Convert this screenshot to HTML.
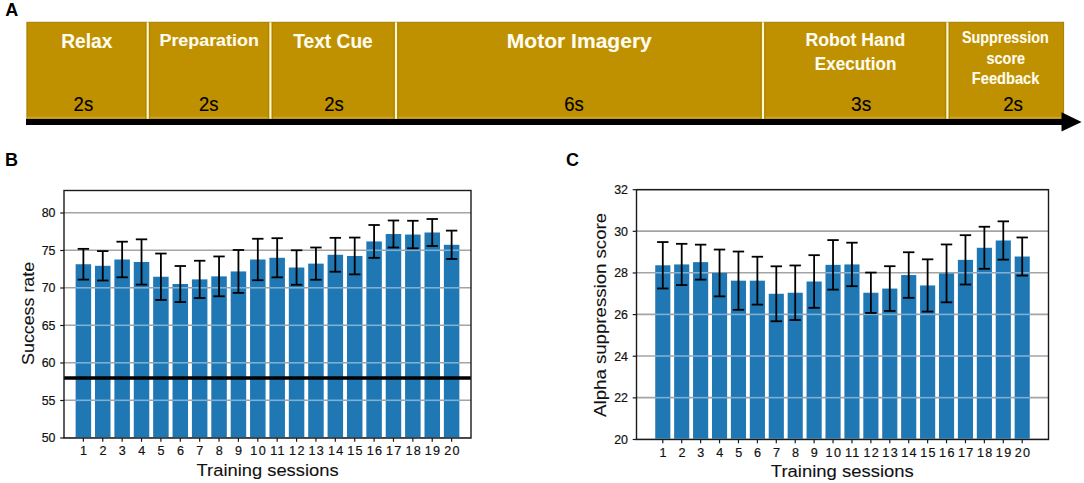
<!DOCTYPE html>
<html><head><meta charset="utf-8"><title>Figure</title>
<style>
html,body{margin:0;padding:0;background:#fff;width:1084px;height:483px;overflow:hidden;}
svg{display:block;font-family:"Liberation Sans", sans-serif;}
</style></head>
<body>
<svg width="1084" height="483" viewBox="0 0 1084 483">
<rect x="26.9" y="22.3" width="1036.6999999999998" height="96.5" fill="#BF9000" stroke="#A47C00" stroke-width="1"/>
<rect x="27.4" y="116.8" width="1035.6999999999998" height="1.6" fill="#D2A628"/>
<rect x="145.2" y="22.3" width="5" height="96.5" fill="#AE8400"/>
<rect x="146.6" y="22.3" width="2.2" height="96.5" fill="#FFF8C8"/>
<rect x="267.9" y="22.3" width="5" height="96.5" fill="#AE8400"/>
<rect x="269.29999999999995" y="22.3" width="2.2" height="96.5" fill="#FFF8C8"/>
<rect x="393.5" y="22.3" width="5" height="96.5" fill="#AE8400"/>
<rect x="394.9" y="22.3" width="2.2" height="96.5" fill="#FFF8C8"/>
<rect x="760.5" y="22.3" width="5" height="96.5" fill="#AE8400"/>
<rect x="761.9" y="22.3" width="2.2" height="96.5" fill="#FFF8C8"/>
<rect x="944.9" y="22.3" width="5" height="96.5" fill="#AE8400"/>
<rect x="946.3" y="22.3" width="2.2" height="96.5" fill="#FFF8C8"/>
<rect x="26" y="119" width="1040" height="6" fill="#000"/>
<polygon points="1061.5,112.2 1081.6,122 1061.5,131.6" fill="#000"/>
<text x="61.20" y="47.60" font-size="19.5" font-weight="bold" fill="#FFFDF0" stroke="#FFFDF0" stroke-width="0.1" textLength="51.10" lengthAdjust="spacingAndGlyphs">Relax</text>
<text x="159.50" y="45.50" font-size="16.8" font-weight="bold" fill="#FFFDF0" stroke="#FFFDF0" stroke-width="0.1" textLength="99.30" lengthAdjust="spacingAndGlyphs">Preparation</text>
<text x="293.20" y="47.60" font-size="19.5" font-weight="bold" fill="#FFFDF0" stroke="#FFFDF0" stroke-width="0.1" textLength="79.60" lengthAdjust="spacingAndGlyphs">Text Cue</text>
<text x="506.80" y="47.70" font-size="19.5" font-weight="bold" fill="#FFFDF0" stroke="#FFFDF0" stroke-width="0.1" textLength="145.00" lengthAdjust="spacingAndGlyphs">Motor Imagery</text>
<text x="805.60" y="46.20" font-size="18.3" font-weight="bold" fill="#FFFDF0" stroke="#FFFDF0" stroke-width="0.1" textLength="99.70" lengthAdjust="spacingAndGlyphs">Robot Hand</text>
<text x="814.80" y="70.20" font-size="18.3" font-weight="bold" fill="#FFFDF0" stroke="#FFFDF0" stroke-width="0.1" textLength="81.60" lengthAdjust="spacingAndGlyphs">Execution</text>
<text x="962.00" y="43.30" font-size="15.6" font-weight="bold" fill="#FFFDF0" stroke="#FFFDF0" stroke-width="0.1" textLength="86.80" lengthAdjust="spacingAndGlyphs">Suppression</text>
<text x="986.60" y="63.90" font-size="15.6" font-weight="bold" fill="#FFFDF0" stroke="#FFFDF0" stroke-width="0.1" textLength="38.40" lengthAdjust="spacingAndGlyphs">score</text>
<text x="971.80" y="84.00" font-size="15.6" font-weight="bold" fill="#FFFDF0" stroke="#FFFDF0" stroke-width="0.1" textLength="67.60" lengthAdjust="spacingAndGlyphs">Feedback</text>
<text x="73.60" y="111.3" font-size="20.8" fill="#000" stroke="#000" stroke-width="0.15" textLength="19.60" lengthAdjust="spacingAndGlyphs">2s</text>
<text x="198.90" y="111.3" font-size="20.8" fill="#000" stroke="#000" stroke-width="0.15" textLength="19.50" lengthAdjust="spacingAndGlyphs">2s</text>
<text x="324.30" y="111.3" font-size="20.8" fill="#000" stroke="#000" stroke-width="0.15" textLength="19.50" lengthAdjust="spacingAndGlyphs">2s</text>
<text x="564.20" y="111.3" font-size="20.8" fill="#000" stroke="#000" stroke-width="0.15" textLength="19.50" lengthAdjust="spacingAndGlyphs">6s</text>
<text x="851.10" y="111.3" font-size="20.8" fill="#000" stroke="#000" stroke-width="0.15" textLength="20.20" lengthAdjust="spacingAndGlyphs">3s</text>
<text x="1003.20" y="111.3" font-size="20.8" fill="#000" stroke="#000" stroke-width="0.15" textLength="19.80" lengthAdjust="spacingAndGlyphs">2s</text>
<text x="5.20" y="16.20" font-size="18" text-anchor="start" font-weight="bold" fill="#000" >A</text>
<text x="5.10" y="165.80" font-size="18" text-anchor="start" font-weight="bold" fill="#000" >B</text>
<text x="566.00" y="166.10" font-size="18" text-anchor="start" font-weight="bold" fill="#000" >C</text>
<line x1="64" y1="437.80" x2="471" y2="437.80" stroke="#A4A4A4" stroke-width="1.6"/>
<line x1="64" y1="400.30" x2="471" y2="400.30" stroke="#A4A4A4" stroke-width="1.6"/>
<line x1="64" y1="362.80" x2="471" y2="362.80" stroke="#A4A4A4" stroke-width="1.6"/>
<line x1="64" y1="325.30" x2="471" y2="325.30" stroke="#A4A4A4" stroke-width="1.6"/>
<line x1="64" y1="287.80" x2="471" y2="287.80" stroke="#A4A4A4" stroke-width="1.6"/>
<line x1="64" y1="250.30" x2="471" y2="250.30" stroke="#A4A4A4" stroke-width="1.6"/>
<line x1="64" y1="212.80" x2="471" y2="212.80" stroke="#A4A4A4" stroke-width="1.6"/>
<rect x="75.63" y="264.23" width="15.50" height="173.77" fill="#1F77B4"/>
<rect x="95.01" y="265.80" width="15.50" height="172.20" fill="#1F77B4"/>
<rect x="114.39" y="259.50" width="15.50" height="178.50" fill="#1F77B4"/>
<rect x="133.77" y="261.98" width="15.50" height="176.02" fill="#1F77B4"/>
<rect x="153.15" y="276.75" width="15.50" height="161.25" fill="#1F77B4"/>
<rect x="172.53" y="284.02" width="15.50" height="153.98" fill="#1F77B4"/>
<rect x="191.91" y="279.37" width="15.50" height="158.63" fill="#1F77B4"/>
<rect x="211.30" y="276.38" width="15.50" height="161.62" fill="#1F77B4"/>
<rect x="230.68" y="271.43" width="15.50" height="166.57" fill="#1F77B4"/>
<rect x="250.06" y="259.50" width="15.50" height="178.50" fill="#1F77B4"/>
<rect x="269.44" y="257.77" width="15.50" height="180.23" fill="#1F77B4"/>
<rect x="288.82" y="267.52" width="15.50" height="170.48" fill="#1F77B4"/>
<rect x="308.20" y="263.62" width="15.50" height="174.38" fill="#1F77B4"/>
<rect x="327.58" y="254.77" width="15.50" height="183.23" fill="#1F77B4"/>
<rect x="346.96" y="255.98" width="15.50" height="182.02" fill="#1F77B4"/>
<rect x="366.34" y="241.43" width="15.50" height="196.57" fill="#1F77B4"/>
<rect x="385.72" y="234.00" width="15.50" height="204.00" fill="#1F77B4"/>
<rect x="405.10" y="234.53" width="15.50" height="203.47" fill="#1F77B4"/>
<rect x="424.49" y="232.50" width="15.50" height="205.50" fill="#1F77B4"/>
<rect x="443.87" y="244.80" width="15.50" height="193.20" fill="#1F77B4"/>
<line x1="75.63" y1="437.80" x2="91.13" y2="437.80" stroke="#FFFFFF" stroke-opacity="0.42" stroke-width="1.6"/>
<line x1="95.01" y1="437.80" x2="110.51" y2="437.80" stroke="#FFFFFF" stroke-opacity="0.42" stroke-width="1.6"/>
<line x1="114.39" y1="437.80" x2="129.90" y2="437.80" stroke="#FFFFFF" stroke-opacity="0.42" stroke-width="1.6"/>
<line x1="133.77" y1="437.80" x2="149.28" y2="437.80" stroke="#FFFFFF" stroke-opacity="0.42" stroke-width="1.6"/>
<line x1="153.15" y1="437.80" x2="168.66" y2="437.80" stroke="#FFFFFF" stroke-opacity="0.42" stroke-width="1.6"/>
<line x1="172.53" y1="437.80" x2="188.04" y2="437.80" stroke="#FFFFFF" stroke-opacity="0.42" stroke-width="1.6"/>
<line x1="191.91" y1="437.80" x2="207.42" y2="437.80" stroke="#FFFFFF" stroke-opacity="0.42" stroke-width="1.6"/>
<line x1="211.30" y1="437.80" x2="226.80" y2="437.80" stroke="#FFFFFF" stroke-opacity="0.42" stroke-width="1.6"/>
<line x1="230.68" y1="437.80" x2="246.18" y2="437.80" stroke="#FFFFFF" stroke-opacity="0.42" stroke-width="1.6"/>
<line x1="250.06" y1="437.80" x2="265.56" y2="437.80" stroke="#FFFFFF" stroke-opacity="0.42" stroke-width="1.6"/>
<line x1="269.44" y1="437.80" x2="284.94" y2="437.80" stroke="#FFFFFF" stroke-opacity="0.42" stroke-width="1.6"/>
<line x1="288.82" y1="437.80" x2="304.32" y2="437.80" stroke="#FFFFFF" stroke-opacity="0.42" stroke-width="1.6"/>
<line x1="308.20" y1="437.80" x2="323.70" y2="437.80" stroke="#FFFFFF" stroke-opacity="0.42" stroke-width="1.6"/>
<line x1="327.58" y1="437.80" x2="343.09" y2="437.80" stroke="#FFFFFF" stroke-opacity="0.42" stroke-width="1.6"/>
<line x1="346.96" y1="437.80" x2="362.47" y2="437.80" stroke="#FFFFFF" stroke-opacity="0.42" stroke-width="1.6"/>
<line x1="366.34" y1="437.80" x2="381.85" y2="437.80" stroke="#FFFFFF" stroke-opacity="0.42" stroke-width="1.6"/>
<line x1="385.72" y1="437.80" x2="401.23" y2="437.80" stroke="#FFFFFF" stroke-opacity="0.42" stroke-width="1.6"/>
<line x1="405.10" y1="437.80" x2="420.61" y2="437.80" stroke="#FFFFFF" stroke-opacity="0.42" stroke-width="1.6"/>
<line x1="424.49" y1="437.80" x2="439.99" y2="437.80" stroke="#FFFFFF" stroke-opacity="0.42" stroke-width="1.6"/>
<line x1="443.87" y1="437.80" x2="459.37" y2="437.80" stroke="#FFFFFF" stroke-opacity="0.42" stroke-width="1.6"/>
<line x1="75.63" y1="400.30" x2="91.13" y2="400.30" stroke="#FFFFFF" stroke-opacity="0.42" stroke-width="1.6"/>
<line x1="95.01" y1="400.30" x2="110.51" y2="400.30" stroke="#FFFFFF" stroke-opacity="0.42" stroke-width="1.6"/>
<line x1="114.39" y1="400.30" x2="129.90" y2="400.30" stroke="#FFFFFF" stroke-opacity="0.42" stroke-width="1.6"/>
<line x1="133.77" y1="400.30" x2="149.28" y2="400.30" stroke="#FFFFFF" stroke-opacity="0.42" stroke-width="1.6"/>
<line x1="153.15" y1="400.30" x2="168.66" y2="400.30" stroke="#FFFFFF" stroke-opacity="0.42" stroke-width="1.6"/>
<line x1="172.53" y1="400.30" x2="188.04" y2="400.30" stroke="#FFFFFF" stroke-opacity="0.42" stroke-width="1.6"/>
<line x1="191.91" y1="400.30" x2="207.42" y2="400.30" stroke="#FFFFFF" stroke-opacity="0.42" stroke-width="1.6"/>
<line x1="211.30" y1="400.30" x2="226.80" y2="400.30" stroke="#FFFFFF" stroke-opacity="0.42" stroke-width="1.6"/>
<line x1="230.68" y1="400.30" x2="246.18" y2="400.30" stroke="#FFFFFF" stroke-opacity="0.42" stroke-width="1.6"/>
<line x1="250.06" y1="400.30" x2="265.56" y2="400.30" stroke="#FFFFFF" stroke-opacity="0.42" stroke-width="1.6"/>
<line x1="269.44" y1="400.30" x2="284.94" y2="400.30" stroke="#FFFFFF" stroke-opacity="0.42" stroke-width="1.6"/>
<line x1="288.82" y1="400.30" x2="304.32" y2="400.30" stroke="#FFFFFF" stroke-opacity="0.42" stroke-width="1.6"/>
<line x1="308.20" y1="400.30" x2="323.70" y2="400.30" stroke="#FFFFFF" stroke-opacity="0.42" stroke-width="1.6"/>
<line x1="327.58" y1="400.30" x2="343.09" y2="400.30" stroke="#FFFFFF" stroke-opacity="0.42" stroke-width="1.6"/>
<line x1="346.96" y1="400.30" x2="362.47" y2="400.30" stroke="#FFFFFF" stroke-opacity="0.42" stroke-width="1.6"/>
<line x1="366.34" y1="400.30" x2="381.85" y2="400.30" stroke="#FFFFFF" stroke-opacity="0.42" stroke-width="1.6"/>
<line x1="385.72" y1="400.30" x2="401.23" y2="400.30" stroke="#FFFFFF" stroke-opacity="0.42" stroke-width="1.6"/>
<line x1="405.10" y1="400.30" x2="420.61" y2="400.30" stroke="#FFFFFF" stroke-opacity="0.42" stroke-width="1.6"/>
<line x1="424.49" y1="400.30" x2="439.99" y2="400.30" stroke="#FFFFFF" stroke-opacity="0.42" stroke-width="1.6"/>
<line x1="443.87" y1="400.30" x2="459.37" y2="400.30" stroke="#FFFFFF" stroke-opacity="0.42" stroke-width="1.6"/>
<line x1="75.63" y1="362.80" x2="91.13" y2="362.80" stroke="#FFFFFF" stroke-opacity="0.42" stroke-width="1.6"/>
<line x1="95.01" y1="362.80" x2="110.51" y2="362.80" stroke="#FFFFFF" stroke-opacity="0.42" stroke-width="1.6"/>
<line x1="114.39" y1="362.80" x2="129.90" y2="362.80" stroke="#FFFFFF" stroke-opacity="0.42" stroke-width="1.6"/>
<line x1="133.77" y1="362.80" x2="149.28" y2="362.80" stroke="#FFFFFF" stroke-opacity="0.42" stroke-width="1.6"/>
<line x1="153.15" y1="362.80" x2="168.66" y2="362.80" stroke="#FFFFFF" stroke-opacity="0.42" stroke-width="1.6"/>
<line x1="172.53" y1="362.80" x2="188.04" y2="362.80" stroke="#FFFFFF" stroke-opacity="0.42" stroke-width="1.6"/>
<line x1="191.91" y1="362.80" x2="207.42" y2="362.80" stroke="#FFFFFF" stroke-opacity="0.42" stroke-width="1.6"/>
<line x1="211.30" y1="362.80" x2="226.80" y2="362.80" stroke="#FFFFFF" stroke-opacity="0.42" stroke-width="1.6"/>
<line x1="230.68" y1="362.80" x2="246.18" y2="362.80" stroke="#FFFFFF" stroke-opacity="0.42" stroke-width="1.6"/>
<line x1="250.06" y1="362.80" x2="265.56" y2="362.80" stroke="#FFFFFF" stroke-opacity="0.42" stroke-width="1.6"/>
<line x1="269.44" y1="362.80" x2="284.94" y2="362.80" stroke="#FFFFFF" stroke-opacity="0.42" stroke-width="1.6"/>
<line x1="288.82" y1="362.80" x2="304.32" y2="362.80" stroke="#FFFFFF" stroke-opacity="0.42" stroke-width="1.6"/>
<line x1="308.20" y1="362.80" x2="323.70" y2="362.80" stroke="#FFFFFF" stroke-opacity="0.42" stroke-width="1.6"/>
<line x1="327.58" y1="362.80" x2="343.09" y2="362.80" stroke="#FFFFFF" stroke-opacity="0.42" stroke-width="1.6"/>
<line x1="346.96" y1="362.80" x2="362.47" y2="362.80" stroke="#FFFFFF" stroke-opacity="0.42" stroke-width="1.6"/>
<line x1="366.34" y1="362.80" x2="381.85" y2="362.80" stroke="#FFFFFF" stroke-opacity="0.42" stroke-width="1.6"/>
<line x1="385.72" y1="362.80" x2="401.23" y2="362.80" stroke="#FFFFFF" stroke-opacity="0.42" stroke-width="1.6"/>
<line x1="405.10" y1="362.80" x2="420.61" y2="362.80" stroke="#FFFFFF" stroke-opacity="0.42" stroke-width="1.6"/>
<line x1="424.49" y1="362.80" x2="439.99" y2="362.80" stroke="#FFFFFF" stroke-opacity="0.42" stroke-width="1.6"/>
<line x1="443.87" y1="362.80" x2="459.37" y2="362.80" stroke="#FFFFFF" stroke-opacity="0.42" stroke-width="1.6"/>
<line x1="75.63" y1="325.30" x2="91.13" y2="325.30" stroke="#FFFFFF" stroke-opacity="0.42" stroke-width="1.6"/>
<line x1="95.01" y1="325.30" x2="110.51" y2="325.30" stroke="#FFFFFF" stroke-opacity="0.42" stroke-width="1.6"/>
<line x1="114.39" y1="325.30" x2="129.90" y2="325.30" stroke="#FFFFFF" stroke-opacity="0.42" stroke-width="1.6"/>
<line x1="133.77" y1="325.30" x2="149.28" y2="325.30" stroke="#FFFFFF" stroke-opacity="0.42" stroke-width="1.6"/>
<line x1="153.15" y1="325.30" x2="168.66" y2="325.30" stroke="#FFFFFF" stroke-opacity="0.42" stroke-width="1.6"/>
<line x1="172.53" y1="325.30" x2="188.04" y2="325.30" stroke="#FFFFFF" stroke-opacity="0.42" stroke-width="1.6"/>
<line x1="191.91" y1="325.30" x2="207.42" y2="325.30" stroke="#FFFFFF" stroke-opacity="0.42" stroke-width="1.6"/>
<line x1="211.30" y1="325.30" x2="226.80" y2="325.30" stroke="#FFFFFF" stroke-opacity="0.42" stroke-width="1.6"/>
<line x1="230.68" y1="325.30" x2="246.18" y2="325.30" stroke="#FFFFFF" stroke-opacity="0.42" stroke-width="1.6"/>
<line x1="250.06" y1="325.30" x2="265.56" y2="325.30" stroke="#FFFFFF" stroke-opacity="0.42" stroke-width="1.6"/>
<line x1="269.44" y1="325.30" x2="284.94" y2="325.30" stroke="#FFFFFF" stroke-opacity="0.42" stroke-width="1.6"/>
<line x1="288.82" y1="325.30" x2="304.32" y2="325.30" stroke="#FFFFFF" stroke-opacity="0.42" stroke-width="1.6"/>
<line x1="308.20" y1="325.30" x2="323.70" y2="325.30" stroke="#FFFFFF" stroke-opacity="0.42" stroke-width="1.6"/>
<line x1="327.58" y1="325.30" x2="343.09" y2="325.30" stroke="#FFFFFF" stroke-opacity="0.42" stroke-width="1.6"/>
<line x1="346.96" y1="325.30" x2="362.47" y2="325.30" stroke="#FFFFFF" stroke-opacity="0.42" stroke-width="1.6"/>
<line x1="366.34" y1="325.30" x2="381.85" y2="325.30" stroke="#FFFFFF" stroke-opacity="0.42" stroke-width="1.6"/>
<line x1="385.72" y1="325.30" x2="401.23" y2="325.30" stroke="#FFFFFF" stroke-opacity="0.42" stroke-width="1.6"/>
<line x1="405.10" y1="325.30" x2="420.61" y2="325.30" stroke="#FFFFFF" stroke-opacity="0.42" stroke-width="1.6"/>
<line x1="424.49" y1="325.30" x2="439.99" y2="325.30" stroke="#FFFFFF" stroke-opacity="0.42" stroke-width="1.6"/>
<line x1="443.87" y1="325.30" x2="459.37" y2="325.30" stroke="#FFFFFF" stroke-opacity="0.42" stroke-width="1.6"/>
<line x1="75.63" y1="287.80" x2="91.13" y2="287.80" stroke="#FFFFFF" stroke-opacity="0.42" stroke-width="1.6"/>
<line x1="95.01" y1="287.80" x2="110.51" y2="287.80" stroke="#FFFFFF" stroke-opacity="0.42" stroke-width="1.6"/>
<line x1="114.39" y1="287.80" x2="129.90" y2="287.80" stroke="#FFFFFF" stroke-opacity="0.42" stroke-width="1.6"/>
<line x1="133.77" y1="287.80" x2="149.28" y2="287.80" stroke="#FFFFFF" stroke-opacity="0.42" stroke-width="1.6"/>
<line x1="153.15" y1="287.80" x2="168.66" y2="287.80" stroke="#FFFFFF" stroke-opacity="0.42" stroke-width="1.6"/>
<line x1="172.53" y1="287.80" x2="188.04" y2="287.80" stroke="#FFFFFF" stroke-opacity="0.42" stroke-width="1.6"/>
<line x1="191.91" y1="287.80" x2="207.42" y2="287.80" stroke="#FFFFFF" stroke-opacity="0.42" stroke-width="1.6"/>
<line x1="211.30" y1="287.80" x2="226.80" y2="287.80" stroke="#FFFFFF" stroke-opacity="0.42" stroke-width="1.6"/>
<line x1="230.68" y1="287.80" x2="246.18" y2="287.80" stroke="#FFFFFF" stroke-opacity="0.42" stroke-width="1.6"/>
<line x1="250.06" y1="287.80" x2="265.56" y2="287.80" stroke="#FFFFFF" stroke-opacity="0.42" stroke-width="1.6"/>
<line x1="269.44" y1="287.80" x2="284.94" y2="287.80" stroke="#FFFFFF" stroke-opacity="0.42" stroke-width="1.6"/>
<line x1="288.82" y1="287.80" x2="304.32" y2="287.80" stroke="#FFFFFF" stroke-opacity="0.42" stroke-width="1.6"/>
<line x1="308.20" y1="287.80" x2="323.70" y2="287.80" stroke="#FFFFFF" stroke-opacity="0.42" stroke-width="1.6"/>
<line x1="327.58" y1="287.80" x2="343.09" y2="287.80" stroke="#FFFFFF" stroke-opacity="0.42" stroke-width="1.6"/>
<line x1="346.96" y1="287.80" x2="362.47" y2="287.80" stroke="#FFFFFF" stroke-opacity="0.42" stroke-width="1.6"/>
<line x1="366.34" y1="287.80" x2="381.85" y2="287.80" stroke="#FFFFFF" stroke-opacity="0.42" stroke-width="1.6"/>
<line x1="385.72" y1="287.80" x2="401.23" y2="287.80" stroke="#FFFFFF" stroke-opacity="0.42" stroke-width="1.6"/>
<line x1="405.10" y1="287.80" x2="420.61" y2="287.80" stroke="#FFFFFF" stroke-opacity="0.42" stroke-width="1.6"/>
<line x1="424.49" y1="287.80" x2="439.99" y2="287.80" stroke="#FFFFFF" stroke-opacity="0.42" stroke-width="1.6"/>
<line x1="443.87" y1="287.80" x2="459.37" y2="287.80" stroke="#FFFFFF" stroke-opacity="0.42" stroke-width="1.6"/>
<line x1="366.34" y1="250.30" x2="381.85" y2="250.30" stroke="#FFFFFF" stroke-opacity="0.42" stroke-width="1.6"/>
<line x1="385.72" y1="250.30" x2="401.23" y2="250.30" stroke="#FFFFFF" stroke-opacity="0.42" stroke-width="1.6"/>
<line x1="405.10" y1="250.30" x2="420.61" y2="250.30" stroke="#FFFFFF" stroke-opacity="0.42" stroke-width="1.6"/>
<line x1="424.49" y1="250.30" x2="439.99" y2="250.30" stroke="#FFFFFF" stroke-opacity="0.42" stroke-width="1.6"/>
<line x1="443.87" y1="250.30" x2="459.37" y2="250.30" stroke="#FFFFFF" stroke-opacity="0.42" stroke-width="1.6"/>
<line x1="64" y1="378.00" x2="471" y2="378.00" stroke="#000" stroke-width="3.3"/>
<line x1="83.38" y1="248.85" x2="83.38" y2="279.60" stroke="#000" stroke-width="1.8"/>
<line x1="77.68" y1="248.85" x2="89.08" y2="248.85" stroke="#000" stroke-width="1.8"/>
<line x1="77.68" y1="279.60" x2="89.08" y2="279.60" stroke="#000" stroke-width="1.8"/>
<line x1="102.76" y1="251.10" x2="102.76" y2="280.50" stroke="#000" stroke-width="1.8"/>
<line x1="97.06" y1="251.10" x2="108.46" y2="251.10" stroke="#000" stroke-width="1.8"/>
<line x1="97.06" y1="280.50" x2="108.46" y2="280.50" stroke="#000" stroke-width="1.8"/>
<line x1="122.14" y1="241.69" x2="122.14" y2="277.31" stroke="#000" stroke-width="1.8"/>
<line x1="116.44" y1="241.69" x2="127.84" y2="241.69" stroke="#000" stroke-width="1.8"/>
<line x1="116.44" y1="277.31" x2="127.84" y2="277.31" stroke="#000" stroke-width="1.8"/>
<line x1="141.52" y1="239.33" x2="141.52" y2="284.62" stroke="#000" stroke-width="1.8"/>
<line x1="135.82" y1="239.33" x2="147.22" y2="239.33" stroke="#000" stroke-width="1.8"/>
<line x1="135.82" y1="284.62" x2="147.22" y2="284.62" stroke="#000" stroke-width="1.8"/>
<line x1="160.90" y1="253.54" x2="160.90" y2="299.96" stroke="#000" stroke-width="1.8"/>
<line x1="155.20" y1="253.54" x2="166.60" y2="253.54" stroke="#000" stroke-width="1.8"/>
<line x1="155.20" y1="299.96" x2="166.60" y2="299.96" stroke="#000" stroke-width="1.8"/>
<line x1="180.29" y1="266.02" x2="180.29" y2="302.03" stroke="#000" stroke-width="1.8"/>
<line x1="174.59" y1="266.02" x2="185.99" y2="266.02" stroke="#000" stroke-width="1.8"/>
<line x1="174.59" y1="302.03" x2="185.99" y2="302.03" stroke="#000" stroke-width="1.8"/>
<line x1="199.67" y1="260.74" x2="199.67" y2="298.01" stroke="#000" stroke-width="1.8"/>
<line x1="193.97" y1="260.74" x2="205.37" y2="260.74" stroke="#000" stroke-width="1.8"/>
<line x1="193.97" y1="298.01" x2="205.37" y2="298.01" stroke="#000" stroke-width="1.8"/>
<line x1="219.05" y1="256.46" x2="219.05" y2="296.29" stroke="#000" stroke-width="1.8"/>
<line x1="213.35" y1="256.46" x2="224.75" y2="256.46" stroke="#000" stroke-width="1.8"/>
<line x1="213.35" y1="296.29" x2="224.75" y2="296.29" stroke="#000" stroke-width="1.8"/>
<line x1="238.43" y1="249.98" x2="238.43" y2="292.88" stroke="#000" stroke-width="1.8"/>
<line x1="232.73" y1="249.98" x2="244.13" y2="249.98" stroke="#000" stroke-width="1.8"/>
<line x1="232.73" y1="292.88" x2="244.13" y2="292.88" stroke="#000" stroke-width="1.8"/>
<line x1="257.81" y1="238.76" x2="257.81" y2="280.24" stroke="#000" stroke-width="1.8"/>
<line x1="252.11" y1="238.76" x2="263.51" y2="238.76" stroke="#000" stroke-width="1.8"/>
<line x1="252.11" y1="280.24" x2="263.51" y2="280.24" stroke="#000" stroke-width="1.8"/>
<line x1="277.19" y1="238.20" x2="277.19" y2="277.35" stroke="#000" stroke-width="1.8"/>
<line x1="271.49" y1="238.20" x2="282.89" y2="238.20" stroke="#000" stroke-width="1.8"/>
<line x1="271.49" y1="277.35" x2="282.89" y2="277.35" stroke="#000" stroke-width="1.8"/>
<line x1="296.57" y1="250.27" x2="296.57" y2="284.77" stroke="#000" stroke-width="1.8"/>
<line x1="290.87" y1="250.27" x2="302.27" y2="250.27" stroke="#000" stroke-width="1.8"/>
<line x1="290.87" y1="284.77" x2="302.27" y2="284.77" stroke="#000" stroke-width="1.8"/>
<line x1="315.95" y1="247.50" x2="315.95" y2="279.75" stroke="#000" stroke-width="1.8"/>
<line x1="310.25" y1="247.50" x2="321.65" y2="247.50" stroke="#000" stroke-width="1.8"/>
<line x1="310.25" y1="279.75" x2="321.65" y2="279.75" stroke="#000" stroke-width="1.8"/>
<line x1="335.33" y1="237.83" x2="335.33" y2="271.72" stroke="#000" stroke-width="1.8"/>
<line x1="329.63" y1="237.83" x2="341.03" y2="237.83" stroke="#000" stroke-width="1.8"/>
<line x1="329.63" y1="271.72" x2="341.03" y2="271.72" stroke="#000" stroke-width="1.8"/>
<line x1="354.71" y1="237.56" x2="354.71" y2="274.39" stroke="#000" stroke-width="1.8"/>
<line x1="349.01" y1="237.56" x2="360.41" y2="237.56" stroke="#000" stroke-width="1.8"/>
<line x1="349.01" y1="274.39" x2="360.41" y2="274.39" stroke="#000" stroke-width="1.8"/>
<line x1="374.10" y1="225.00" x2="374.10" y2="257.85" stroke="#000" stroke-width="1.8"/>
<line x1="368.40" y1="225.00" x2="379.80" y2="225.00" stroke="#000" stroke-width="1.8"/>
<line x1="368.40" y1="257.85" x2="379.80" y2="257.85" stroke="#000" stroke-width="1.8"/>
<line x1="393.48" y1="220.50" x2="393.48" y2="247.50" stroke="#000" stroke-width="1.8"/>
<line x1="387.78" y1="220.50" x2="399.18" y2="220.50" stroke="#000" stroke-width="1.8"/>
<line x1="387.78" y1="247.50" x2="399.18" y2="247.50" stroke="#000" stroke-width="1.8"/>
<line x1="412.86" y1="220.76" x2="412.86" y2="248.29" stroke="#000" stroke-width="1.8"/>
<line x1="407.16" y1="220.76" x2="418.56" y2="220.76" stroke="#000" stroke-width="1.8"/>
<line x1="407.16" y1="248.29" x2="418.56" y2="248.29" stroke="#000" stroke-width="1.8"/>
<line x1="432.24" y1="219.00" x2="432.24" y2="246.00" stroke="#000" stroke-width="1.8"/>
<line x1="426.54" y1="219.00" x2="437.94" y2="219.00" stroke="#000" stroke-width="1.8"/>
<line x1="426.54" y1="246.00" x2="437.94" y2="246.00" stroke="#000" stroke-width="1.8"/>
<line x1="451.62" y1="230.62" x2="451.62" y2="258.97" stroke="#000" stroke-width="1.8"/>
<line x1="445.92" y1="230.62" x2="457.32" y2="230.62" stroke="#000" stroke-width="1.8"/>
<line x1="445.92" y1="258.97" x2="457.32" y2="258.97" stroke="#000" stroke-width="1.8"/>
<rect x="64" y="190.5" width="407" height="247.5" fill="none" stroke="#1a1a1a" stroke-width="1.4"/>
<line x1="60.2" y1="438.00" x2="64" y2="438.00" stroke="#1a1a1a" stroke-width="1.2"/>
<text x="55.50" y="442.30" font-size="12.4" text-anchor="end" fill="#111" stroke="#111" stroke-width="0.2">50</text>
<line x1="60.2" y1="400.50" x2="64" y2="400.50" stroke="#1a1a1a" stroke-width="1.2"/>
<text x="55.50" y="404.80" font-size="12.4" text-anchor="end" fill="#111" stroke="#111" stroke-width="0.2">55</text>
<line x1="60.2" y1="363.00" x2="64" y2="363.00" stroke="#1a1a1a" stroke-width="1.2"/>
<text x="55.50" y="367.30" font-size="12.4" text-anchor="end" fill="#111" stroke="#111" stroke-width="0.2">60</text>
<line x1="60.2" y1="325.50" x2="64" y2="325.50" stroke="#1a1a1a" stroke-width="1.2"/>
<text x="55.50" y="329.80" font-size="12.4" text-anchor="end" fill="#111" stroke="#111" stroke-width="0.2">65</text>
<line x1="60.2" y1="288.00" x2="64" y2="288.00" stroke="#1a1a1a" stroke-width="1.2"/>
<text x="55.50" y="292.30" font-size="12.4" text-anchor="end" fill="#111" stroke="#111" stroke-width="0.2">70</text>
<line x1="60.2" y1="250.50" x2="64" y2="250.50" stroke="#1a1a1a" stroke-width="1.2"/>
<text x="55.50" y="254.80" font-size="12.4" text-anchor="end" fill="#111" stroke="#111" stroke-width="0.2">75</text>
<line x1="60.2" y1="213.00" x2="64" y2="213.00" stroke="#1a1a1a" stroke-width="1.2"/>
<text x="55.50" y="217.30" font-size="12.4" text-anchor="end" fill="#111" stroke="#111" stroke-width="0.2">80</text>
<line x1="83.38" y1="438" x2="83.38" y2="441.8" stroke="#1a1a1a" stroke-width="1.2"/>
<text x="83.58" y="455.30" font-size="12.6" text-anchor="middle" fill="#111" stroke="#111" stroke-width="0.2" letter-spacing="0">1</text>
<line x1="102.76" y1="438" x2="102.76" y2="441.8" stroke="#1a1a1a" stroke-width="1.2"/>
<text x="102.96" y="455.30" font-size="12.6" text-anchor="middle" fill="#111" stroke="#111" stroke-width="0.2" letter-spacing="0">2</text>
<line x1="122.14" y1="438" x2="122.14" y2="441.8" stroke="#1a1a1a" stroke-width="1.2"/>
<text x="122.34" y="455.30" font-size="12.6" text-anchor="middle" fill="#111" stroke="#111" stroke-width="0.2" letter-spacing="0">3</text>
<line x1="141.52" y1="438" x2="141.52" y2="441.8" stroke="#1a1a1a" stroke-width="1.2"/>
<text x="141.72" y="455.30" font-size="12.6" text-anchor="middle" fill="#111" stroke="#111" stroke-width="0.2" letter-spacing="0">4</text>
<line x1="160.90" y1="438" x2="160.90" y2="441.8" stroke="#1a1a1a" stroke-width="1.2"/>
<text x="161.10" y="455.30" font-size="12.6" text-anchor="middle" fill="#111" stroke="#111" stroke-width="0.2" letter-spacing="0">5</text>
<line x1="180.29" y1="438" x2="180.29" y2="441.8" stroke="#1a1a1a" stroke-width="1.2"/>
<text x="180.49" y="455.30" font-size="12.6" text-anchor="middle" fill="#111" stroke="#111" stroke-width="0.2" letter-spacing="0">6</text>
<line x1="199.67" y1="438" x2="199.67" y2="441.8" stroke="#1a1a1a" stroke-width="1.2"/>
<text x="199.87" y="455.30" font-size="12.6" text-anchor="middle" fill="#111" stroke="#111" stroke-width="0.2" letter-spacing="0">7</text>
<line x1="219.05" y1="438" x2="219.05" y2="441.8" stroke="#1a1a1a" stroke-width="1.2"/>
<text x="219.25" y="455.30" font-size="12.6" text-anchor="middle" fill="#111" stroke="#111" stroke-width="0.2" letter-spacing="0">8</text>
<line x1="238.43" y1="438" x2="238.43" y2="441.8" stroke="#1a1a1a" stroke-width="1.2"/>
<text x="238.63" y="455.30" font-size="12.6" text-anchor="middle" fill="#111" stroke="#111" stroke-width="0.2" letter-spacing="0">9</text>
<line x1="257.81" y1="438" x2="257.81" y2="441.8" stroke="#1a1a1a" stroke-width="1.2"/>
<text x="258.66" y="455.30" font-size="12.6" text-anchor="middle" fill="#111" stroke="#111" stroke-width="0.2" letter-spacing="1.3">10</text>
<line x1="277.19" y1="438" x2="277.19" y2="441.8" stroke="#1a1a1a" stroke-width="1.2"/>
<text x="278.04" y="455.30" font-size="12.6" text-anchor="middle" fill="#111" stroke="#111" stroke-width="0.2" letter-spacing="1.3">11</text>
<line x1="296.57" y1="438" x2="296.57" y2="441.8" stroke="#1a1a1a" stroke-width="1.2"/>
<text x="297.42" y="455.30" font-size="12.6" text-anchor="middle" fill="#111" stroke="#111" stroke-width="0.2" letter-spacing="1.3">12</text>
<line x1="315.95" y1="438" x2="315.95" y2="441.8" stroke="#1a1a1a" stroke-width="1.2"/>
<text x="316.80" y="455.30" font-size="12.6" text-anchor="middle" fill="#111" stroke="#111" stroke-width="0.2" letter-spacing="1.3">13</text>
<line x1="335.33" y1="438" x2="335.33" y2="441.8" stroke="#1a1a1a" stroke-width="1.2"/>
<text x="336.18" y="455.30" font-size="12.6" text-anchor="middle" fill="#111" stroke="#111" stroke-width="0.2" letter-spacing="1.3">14</text>
<line x1="354.71" y1="438" x2="354.71" y2="441.8" stroke="#1a1a1a" stroke-width="1.2"/>
<text x="355.56" y="455.30" font-size="12.6" text-anchor="middle" fill="#111" stroke="#111" stroke-width="0.2" letter-spacing="1.3">15</text>
<line x1="374.10" y1="438" x2="374.10" y2="441.8" stroke="#1a1a1a" stroke-width="1.2"/>
<text x="374.95" y="455.30" font-size="12.6" text-anchor="middle" fill="#111" stroke="#111" stroke-width="0.2" letter-spacing="1.3">16</text>
<line x1="393.48" y1="438" x2="393.48" y2="441.8" stroke="#1a1a1a" stroke-width="1.2"/>
<text x="394.33" y="455.30" font-size="12.6" text-anchor="middle" fill="#111" stroke="#111" stroke-width="0.2" letter-spacing="1.3">17</text>
<line x1="412.86" y1="438" x2="412.86" y2="441.8" stroke="#1a1a1a" stroke-width="1.2"/>
<text x="413.71" y="455.30" font-size="12.6" text-anchor="middle" fill="#111" stroke="#111" stroke-width="0.2" letter-spacing="1.3">18</text>
<line x1="432.24" y1="438" x2="432.24" y2="441.8" stroke="#1a1a1a" stroke-width="1.2"/>
<text x="433.09" y="455.30" font-size="12.6" text-anchor="middle" fill="#111" stroke="#111" stroke-width="0.2" letter-spacing="1.3">19</text>
<line x1="451.62" y1="438" x2="451.62" y2="441.8" stroke="#1a1a1a" stroke-width="1.2"/>
<text x="452.47" y="455.30" font-size="12.6" text-anchor="middle" fill="#111" stroke="#111" stroke-width="0.2" letter-spacing="1.3">20</text>
<line x1="636.5" y1="439.30" x2="1048.5" y2="439.30" stroke="#A4A4A4" stroke-width="1.6"/>
<line x1="636.5" y1="397.67" x2="1048.5" y2="397.67" stroke="#A4A4A4" stroke-width="1.6"/>
<line x1="636.5" y1="356.03" x2="1048.5" y2="356.03" stroke="#A4A4A4" stroke-width="1.6"/>
<line x1="636.5" y1="314.40" x2="1048.5" y2="314.40" stroke="#A4A4A4" stroke-width="1.6"/>
<line x1="636.5" y1="272.77" x2="1048.5" y2="272.77" stroke="#A4A4A4" stroke-width="1.6"/>
<line x1="636.5" y1="231.13" x2="1048.5" y2="231.13" stroke="#A4A4A4" stroke-width="1.6"/>
<line x1="636.5" y1="189.50" x2="1048.5" y2="189.50" stroke="#A4A4A4" stroke-width="1.6"/>
<rect x="655.23" y="265.26" width="15.13" height="174.24" fill="#1F77B4"/>
<rect x="674.14" y="264.43" width="15.13" height="175.07" fill="#1F77B4"/>
<rect x="693.06" y="262.14" width="15.13" height="177.36" fill="#1F77B4"/>
<rect x="711.98" y="272.97" width="15.13" height="166.53" fill="#1F77B4"/>
<rect x="730.89" y="280.67" width="15.13" height="158.83" fill="#1F77B4"/>
<rect x="749.81" y="280.67" width="15.13" height="158.83" fill="#1F77B4"/>
<rect x="768.73" y="293.78" width="15.13" height="145.72" fill="#1F77B4"/>
<rect x="787.64" y="292.74" width="15.13" height="146.76" fill="#1F77B4"/>
<rect x="806.56" y="281.50" width="15.13" height="158.00" fill="#1F77B4"/>
<rect x="825.48" y="264.85" width="15.13" height="174.65" fill="#1F77B4"/>
<rect x="844.39" y="264.43" width="15.13" height="175.07" fill="#1F77B4"/>
<rect x="863.31" y="292.74" width="15.13" height="146.76" fill="#1F77B4"/>
<rect x="882.22" y="288.58" width="15.13" height="150.92" fill="#1F77B4"/>
<rect x="901.14" y="275.05" width="15.13" height="164.45" fill="#1F77B4"/>
<rect x="920.06" y="285.46" width="15.13" height="154.04" fill="#1F77B4"/>
<rect x="938.97" y="273.38" width="15.13" height="166.12" fill="#1F77B4"/>
<rect x="957.89" y="259.85" width="15.13" height="179.65" fill="#1F77B4"/>
<rect x="976.81" y="247.78" width="15.13" height="191.72" fill="#1F77B4"/>
<rect x="995.72" y="240.49" width="15.13" height="199.01" fill="#1F77B4"/>
<rect x="1014.64" y="256.52" width="15.13" height="182.98" fill="#1F77B4"/>
<line x1="655.23" y1="439.30" x2="670.36" y2="439.30" stroke="#FFFFFF" stroke-opacity="0.42" stroke-width="1.6"/>
<line x1="674.14" y1="439.30" x2="689.28" y2="439.30" stroke="#FFFFFF" stroke-opacity="0.42" stroke-width="1.6"/>
<line x1="693.06" y1="439.30" x2="708.19" y2="439.30" stroke="#FFFFFF" stroke-opacity="0.42" stroke-width="1.6"/>
<line x1="711.98" y1="439.30" x2="727.11" y2="439.30" stroke="#FFFFFF" stroke-opacity="0.42" stroke-width="1.6"/>
<line x1="730.89" y1="439.30" x2="746.03" y2="439.30" stroke="#FFFFFF" stroke-opacity="0.42" stroke-width="1.6"/>
<line x1="749.81" y1="439.30" x2="764.94" y2="439.30" stroke="#FFFFFF" stroke-opacity="0.42" stroke-width="1.6"/>
<line x1="768.73" y1="439.30" x2="783.86" y2="439.30" stroke="#FFFFFF" stroke-opacity="0.42" stroke-width="1.6"/>
<line x1="787.64" y1="439.30" x2="802.78" y2="439.30" stroke="#FFFFFF" stroke-opacity="0.42" stroke-width="1.6"/>
<line x1="806.56" y1="439.30" x2="821.69" y2="439.30" stroke="#FFFFFF" stroke-opacity="0.42" stroke-width="1.6"/>
<line x1="825.48" y1="439.30" x2="840.61" y2="439.30" stroke="#FFFFFF" stroke-opacity="0.42" stroke-width="1.6"/>
<line x1="844.39" y1="439.30" x2="859.52" y2="439.30" stroke="#FFFFFF" stroke-opacity="0.42" stroke-width="1.6"/>
<line x1="863.31" y1="439.30" x2="878.44" y2="439.30" stroke="#FFFFFF" stroke-opacity="0.42" stroke-width="1.6"/>
<line x1="882.22" y1="439.30" x2="897.36" y2="439.30" stroke="#FFFFFF" stroke-opacity="0.42" stroke-width="1.6"/>
<line x1="901.14" y1="439.30" x2="916.27" y2="439.30" stroke="#FFFFFF" stroke-opacity="0.42" stroke-width="1.6"/>
<line x1="920.06" y1="439.30" x2="935.19" y2="439.30" stroke="#FFFFFF" stroke-opacity="0.42" stroke-width="1.6"/>
<line x1="938.97" y1="439.30" x2="954.11" y2="439.30" stroke="#FFFFFF" stroke-opacity="0.42" stroke-width="1.6"/>
<line x1="957.89" y1="439.30" x2="973.02" y2="439.30" stroke="#FFFFFF" stroke-opacity="0.42" stroke-width="1.6"/>
<line x1="976.81" y1="439.30" x2="991.94" y2="439.30" stroke="#FFFFFF" stroke-opacity="0.42" stroke-width="1.6"/>
<line x1="995.72" y1="439.30" x2="1010.86" y2="439.30" stroke="#FFFFFF" stroke-opacity="0.42" stroke-width="1.6"/>
<line x1="1014.64" y1="439.30" x2="1029.77" y2="439.30" stroke="#FFFFFF" stroke-opacity="0.42" stroke-width="1.6"/>
<line x1="655.23" y1="397.67" x2="670.36" y2="397.67" stroke="#FFFFFF" stroke-opacity="0.42" stroke-width="1.6"/>
<line x1="674.14" y1="397.67" x2="689.28" y2="397.67" stroke="#FFFFFF" stroke-opacity="0.42" stroke-width="1.6"/>
<line x1="693.06" y1="397.67" x2="708.19" y2="397.67" stroke="#FFFFFF" stroke-opacity="0.42" stroke-width="1.6"/>
<line x1="711.98" y1="397.67" x2="727.11" y2="397.67" stroke="#FFFFFF" stroke-opacity="0.42" stroke-width="1.6"/>
<line x1="730.89" y1="397.67" x2="746.03" y2="397.67" stroke="#FFFFFF" stroke-opacity="0.42" stroke-width="1.6"/>
<line x1="749.81" y1="397.67" x2="764.94" y2="397.67" stroke="#FFFFFF" stroke-opacity="0.42" stroke-width="1.6"/>
<line x1="768.73" y1="397.67" x2="783.86" y2="397.67" stroke="#FFFFFF" stroke-opacity="0.42" stroke-width="1.6"/>
<line x1="787.64" y1="397.67" x2="802.78" y2="397.67" stroke="#FFFFFF" stroke-opacity="0.42" stroke-width="1.6"/>
<line x1="806.56" y1="397.67" x2="821.69" y2="397.67" stroke="#FFFFFF" stroke-opacity="0.42" stroke-width="1.6"/>
<line x1="825.48" y1="397.67" x2="840.61" y2="397.67" stroke="#FFFFFF" stroke-opacity="0.42" stroke-width="1.6"/>
<line x1="844.39" y1="397.67" x2="859.52" y2="397.67" stroke="#FFFFFF" stroke-opacity="0.42" stroke-width="1.6"/>
<line x1="863.31" y1="397.67" x2="878.44" y2="397.67" stroke="#FFFFFF" stroke-opacity="0.42" stroke-width="1.6"/>
<line x1="882.22" y1="397.67" x2="897.36" y2="397.67" stroke="#FFFFFF" stroke-opacity="0.42" stroke-width="1.6"/>
<line x1="901.14" y1="397.67" x2="916.27" y2="397.67" stroke="#FFFFFF" stroke-opacity="0.42" stroke-width="1.6"/>
<line x1="920.06" y1="397.67" x2="935.19" y2="397.67" stroke="#FFFFFF" stroke-opacity="0.42" stroke-width="1.6"/>
<line x1="938.97" y1="397.67" x2="954.11" y2="397.67" stroke="#FFFFFF" stroke-opacity="0.42" stroke-width="1.6"/>
<line x1="957.89" y1="397.67" x2="973.02" y2="397.67" stroke="#FFFFFF" stroke-opacity="0.42" stroke-width="1.6"/>
<line x1="976.81" y1="397.67" x2="991.94" y2="397.67" stroke="#FFFFFF" stroke-opacity="0.42" stroke-width="1.6"/>
<line x1="995.72" y1="397.67" x2="1010.86" y2="397.67" stroke="#FFFFFF" stroke-opacity="0.42" stroke-width="1.6"/>
<line x1="1014.64" y1="397.67" x2="1029.77" y2="397.67" stroke="#FFFFFF" stroke-opacity="0.42" stroke-width="1.6"/>
<line x1="655.23" y1="356.03" x2="670.36" y2="356.03" stroke="#FFFFFF" stroke-opacity="0.42" stroke-width="1.6"/>
<line x1="674.14" y1="356.03" x2="689.28" y2="356.03" stroke="#FFFFFF" stroke-opacity="0.42" stroke-width="1.6"/>
<line x1="693.06" y1="356.03" x2="708.19" y2="356.03" stroke="#FFFFFF" stroke-opacity="0.42" stroke-width="1.6"/>
<line x1="711.98" y1="356.03" x2="727.11" y2="356.03" stroke="#FFFFFF" stroke-opacity="0.42" stroke-width="1.6"/>
<line x1="730.89" y1="356.03" x2="746.03" y2="356.03" stroke="#FFFFFF" stroke-opacity="0.42" stroke-width="1.6"/>
<line x1="749.81" y1="356.03" x2="764.94" y2="356.03" stroke="#FFFFFF" stroke-opacity="0.42" stroke-width="1.6"/>
<line x1="768.73" y1="356.03" x2="783.86" y2="356.03" stroke="#FFFFFF" stroke-opacity="0.42" stroke-width="1.6"/>
<line x1="787.64" y1="356.03" x2="802.78" y2="356.03" stroke="#FFFFFF" stroke-opacity="0.42" stroke-width="1.6"/>
<line x1="806.56" y1="356.03" x2="821.69" y2="356.03" stroke="#FFFFFF" stroke-opacity="0.42" stroke-width="1.6"/>
<line x1="825.48" y1="356.03" x2="840.61" y2="356.03" stroke="#FFFFFF" stroke-opacity="0.42" stroke-width="1.6"/>
<line x1="844.39" y1="356.03" x2="859.52" y2="356.03" stroke="#FFFFFF" stroke-opacity="0.42" stroke-width="1.6"/>
<line x1="863.31" y1="356.03" x2="878.44" y2="356.03" stroke="#FFFFFF" stroke-opacity="0.42" stroke-width="1.6"/>
<line x1="882.22" y1="356.03" x2="897.36" y2="356.03" stroke="#FFFFFF" stroke-opacity="0.42" stroke-width="1.6"/>
<line x1="901.14" y1="356.03" x2="916.27" y2="356.03" stroke="#FFFFFF" stroke-opacity="0.42" stroke-width="1.6"/>
<line x1="920.06" y1="356.03" x2="935.19" y2="356.03" stroke="#FFFFFF" stroke-opacity="0.42" stroke-width="1.6"/>
<line x1="938.97" y1="356.03" x2="954.11" y2="356.03" stroke="#FFFFFF" stroke-opacity="0.42" stroke-width="1.6"/>
<line x1="957.89" y1="356.03" x2="973.02" y2="356.03" stroke="#FFFFFF" stroke-opacity="0.42" stroke-width="1.6"/>
<line x1="976.81" y1="356.03" x2="991.94" y2="356.03" stroke="#FFFFFF" stroke-opacity="0.42" stroke-width="1.6"/>
<line x1="995.72" y1="356.03" x2="1010.86" y2="356.03" stroke="#FFFFFF" stroke-opacity="0.42" stroke-width="1.6"/>
<line x1="1014.64" y1="356.03" x2="1029.77" y2="356.03" stroke="#FFFFFF" stroke-opacity="0.42" stroke-width="1.6"/>
<line x1="655.23" y1="314.40" x2="670.36" y2="314.40" stroke="#FFFFFF" stroke-opacity="0.42" stroke-width="1.6"/>
<line x1="674.14" y1="314.40" x2="689.28" y2="314.40" stroke="#FFFFFF" stroke-opacity="0.42" stroke-width="1.6"/>
<line x1="693.06" y1="314.40" x2="708.19" y2="314.40" stroke="#FFFFFF" stroke-opacity="0.42" stroke-width="1.6"/>
<line x1="711.98" y1="314.40" x2="727.11" y2="314.40" stroke="#FFFFFF" stroke-opacity="0.42" stroke-width="1.6"/>
<line x1="730.89" y1="314.40" x2="746.03" y2="314.40" stroke="#FFFFFF" stroke-opacity="0.42" stroke-width="1.6"/>
<line x1="749.81" y1="314.40" x2="764.94" y2="314.40" stroke="#FFFFFF" stroke-opacity="0.42" stroke-width="1.6"/>
<line x1="768.73" y1="314.40" x2="783.86" y2="314.40" stroke="#FFFFFF" stroke-opacity="0.42" stroke-width="1.6"/>
<line x1="787.64" y1="314.40" x2="802.78" y2="314.40" stroke="#FFFFFF" stroke-opacity="0.42" stroke-width="1.6"/>
<line x1="806.56" y1="314.40" x2="821.69" y2="314.40" stroke="#FFFFFF" stroke-opacity="0.42" stroke-width="1.6"/>
<line x1="825.48" y1="314.40" x2="840.61" y2="314.40" stroke="#FFFFFF" stroke-opacity="0.42" stroke-width="1.6"/>
<line x1="844.39" y1="314.40" x2="859.52" y2="314.40" stroke="#FFFFFF" stroke-opacity="0.42" stroke-width="1.6"/>
<line x1="863.31" y1="314.40" x2="878.44" y2="314.40" stroke="#FFFFFF" stroke-opacity="0.42" stroke-width="1.6"/>
<line x1="882.22" y1="314.40" x2="897.36" y2="314.40" stroke="#FFFFFF" stroke-opacity="0.42" stroke-width="1.6"/>
<line x1="901.14" y1="314.40" x2="916.27" y2="314.40" stroke="#FFFFFF" stroke-opacity="0.42" stroke-width="1.6"/>
<line x1="920.06" y1="314.40" x2="935.19" y2="314.40" stroke="#FFFFFF" stroke-opacity="0.42" stroke-width="1.6"/>
<line x1="938.97" y1="314.40" x2="954.11" y2="314.40" stroke="#FFFFFF" stroke-opacity="0.42" stroke-width="1.6"/>
<line x1="957.89" y1="314.40" x2="973.02" y2="314.40" stroke="#FFFFFF" stroke-opacity="0.42" stroke-width="1.6"/>
<line x1="976.81" y1="314.40" x2="991.94" y2="314.40" stroke="#FFFFFF" stroke-opacity="0.42" stroke-width="1.6"/>
<line x1="995.72" y1="314.40" x2="1010.86" y2="314.40" stroke="#FFFFFF" stroke-opacity="0.42" stroke-width="1.6"/>
<line x1="1014.64" y1="314.40" x2="1029.77" y2="314.40" stroke="#FFFFFF" stroke-opacity="0.42" stroke-width="1.6"/>
<line x1="655.23" y1="272.77" x2="670.36" y2="272.77" stroke="#FFFFFF" stroke-opacity="0.42" stroke-width="1.6"/>
<line x1="674.14" y1="272.77" x2="689.28" y2="272.77" stroke="#FFFFFF" stroke-opacity="0.42" stroke-width="1.6"/>
<line x1="693.06" y1="272.77" x2="708.19" y2="272.77" stroke="#FFFFFF" stroke-opacity="0.42" stroke-width="1.6"/>
<line x1="825.48" y1="272.77" x2="840.61" y2="272.77" stroke="#FFFFFF" stroke-opacity="0.42" stroke-width="1.6"/>
<line x1="844.39" y1="272.77" x2="859.52" y2="272.77" stroke="#FFFFFF" stroke-opacity="0.42" stroke-width="1.6"/>
<line x1="957.89" y1="272.77" x2="973.02" y2="272.77" stroke="#FFFFFF" stroke-opacity="0.42" stroke-width="1.6"/>
<line x1="976.81" y1="272.77" x2="991.94" y2="272.77" stroke="#FFFFFF" stroke-opacity="0.42" stroke-width="1.6"/>
<line x1="995.72" y1="272.77" x2="1010.86" y2="272.77" stroke="#FFFFFF" stroke-opacity="0.42" stroke-width="1.6"/>
<line x1="1014.64" y1="272.77" x2="1029.77" y2="272.77" stroke="#FFFFFF" stroke-opacity="0.42" stroke-width="1.6"/>
<line x1="662.79" y1="242.05" x2="662.79" y2="288.48" stroke="#000" stroke-width="1.8"/>
<line x1="657.09" y1="242.05" x2="668.49" y2="242.05" stroke="#000" stroke-width="1.8"/>
<line x1="657.09" y1="288.48" x2="668.49" y2="288.48" stroke="#000" stroke-width="1.8"/>
<line x1="681.71" y1="243.82" x2="681.71" y2="285.04" stroke="#000" stroke-width="1.8"/>
<line x1="676.01" y1="243.82" x2="687.41" y2="243.82" stroke="#000" stroke-width="1.8"/>
<line x1="676.01" y1="285.04" x2="687.41" y2="285.04" stroke="#000" stroke-width="1.8"/>
<line x1="700.63" y1="244.66" x2="700.63" y2="279.63" stroke="#000" stroke-width="1.8"/>
<line x1="694.93" y1="244.66" x2="706.33" y2="244.66" stroke="#000" stroke-width="1.8"/>
<line x1="694.93" y1="279.63" x2="706.33" y2="279.63" stroke="#000" stroke-width="1.8"/>
<line x1="719.54" y1="249.55" x2="719.54" y2="296.39" stroke="#000" stroke-width="1.8"/>
<line x1="713.84" y1="249.55" x2="725.24" y2="249.55" stroke="#000" stroke-width="1.8"/>
<line x1="713.84" y1="296.39" x2="725.24" y2="296.39" stroke="#000" stroke-width="1.8"/>
<line x1="738.46" y1="251.53" x2="738.46" y2="309.81" stroke="#000" stroke-width="1.8"/>
<line x1="732.76" y1="251.53" x2="744.16" y2="251.53" stroke="#000" stroke-width="1.8"/>
<line x1="732.76" y1="309.81" x2="744.16" y2="309.81" stroke="#000" stroke-width="1.8"/>
<line x1="757.38" y1="256.73" x2="757.38" y2="304.61" stroke="#000" stroke-width="1.8"/>
<line x1="751.68" y1="256.73" x2="763.08" y2="256.73" stroke="#000" stroke-width="1.8"/>
<line x1="751.68" y1="304.61" x2="763.08" y2="304.61" stroke="#000" stroke-width="1.8"/>
<line x1="776.29" y1="266.31" x2="776.29" y2="321.26" stroke="#000" stroke-width="1.8"/>
<line x1="770.59" y1="266.31" x2="781.99" y2="266.31" stroke="#000" stroke-width="1.8"/>
<line x1="770.59" y1="321.26" x2="781.99" y2="321.26" stroke="#000" stroke-width="1.8"/>
<line x1="795.21" y1="265.47" x2="795.21" y2="320.01" stroke="#000" stroke-width="1.8"/>
<line x1="789.51" y1="265.47" x2="800.91" y2="265.47" stroke="#000" stroke-width="1.8"/>
<line x1="789.51" y1="320.01" x2="800.91" y2="320.01" stroke="#000" stroke-width="1.8"/>
<line x1="814.13" y1="255.17" x2="814.13" y2="307.83" stroke="#000" stroke-width="1.8"/>
<line x1="808.43" y1="255.17" x2="819.83" y2="255.17" stroke="#000" stroke-width="1.8"/>
<line x1="808.43" y1="307.83" x2="819.83" y2="307.83" stroke="#000" stroke-width="1.8"/>
<line x1="833.04" y1="240.08" x2="833.04" y2="289.62" stroke="#000" stroke-width="1.8"/>
<line x1="827.34" y1="240.08" x2="838.74" y2="240.08" stroke="#000" stroke-width="1.8"/>
<line x1="827.34" y1="289.62" x2="838.74" y2="289.62" stroke="#000" stroke-width="1.8"/>
<line x1="851.96" y1="242.68" x2="851.96" y2="286.19" stroke="#000" stroke-width="1.8"/>
<line x1="846.26" y1="242.68" x2="857.66" y2="242.68" stroke="#000" stroke-width="1.8"/>
<line x1="846.26" y1="286.19" x2="857.66" y2="286.19" stroke="#000" stroke-width="1.8"/>
<line x1="870.87" y1="272.55" x2="870.87" y2="312.93" stroke="#000" stroke-width="1.8"/>
<line x1="865.17" y1="272.55" x2="876.57" y2="272.55" stroke="#000" stroke-width="1.8"/>
<line x1="865.17" y1="312.93" x2="876.57" y2="312.93" stroke="#000" stroke-width="1.8"/>
<line x1="889.79" y1="266.20" x2="889.79" y2="310.96" stroke="#000" stroke-width="1.8"/>
<line x1="884.09" y1="266.20" x2="895.49" y2="266.20" stroke="#000" stroke-width="1.8"/>
<line x1="884.09" y1="310.96" x2="895.49" y2="310.96" stroke="#000" stroke-width="1.8"/>
<line x1="908.71" y1="252.25" x2="908.71" y2="297.84" stroke="#000" stroke-width="1.8"/>
<line x1="903.01" y1="252.25" x2="914.41" y2="252.25" stroke="#000" stroke-width="1.8"/>
<line x1="903.01" y1="297.84" x2="914.41" y2="297.84" stroke="#000" stroke-width="1.8"/>
<line x1="927.62" y1="259.33" x2="927.62" y2="311.58" stroke="#000" stroke-width="1.8"/>
<line x1="921.92" y1="259.33" x2="933.32" y2="259.33" stroke="#000" stroke-width="1.8"/>
<line x1="921.92" y1="311.58" x2="933.32" y2="311.58" stroke="#000" stroke-width="1.8"/>
<line x1="946.54" y1="244.45" x2="946.54" y2="302.32" stroke="#000" stroke-width="1.8"/>
<line x1="940.84" y1="244.45" x2="952.24" y2="244.45" stroke="#000" stroke-width="1.8"/>
<line x1="940.84" y1="302.32" x2="952.24" y2="302.32" stroke="#000" stroke-width="1.8"/>
<line x1="965.46" y1="235.18" x2="965.46" y2="284.52" stroke="#000" stroke-width="1.8"/>
<line x1="959.76" y1="235.18" x2="971.16" y2="235.18" stroke="#000" stroke-width="1.8"/>
<line x1="959.76" y1="284.52" x2="971.16" y2="284.52" stroke="#000" stroke-width="1.8"/>
<line x1="984.37" y1="226.75" x2="984.37" y2="268.80" stroke="#000" stroke-width="1.8"/>
<line x1="978.67" y1="226.75" x2="990.07" y2="226.75" stroke="#000" stroke-width="1.8"/>
<line x1="978.67" y1="268.80" x2="990.07" y2="268.80" stroke="#000" stroke-width="1.8"/>
<line x1="1003.29" y1="221.34" x2="1003.29" y2="259.64" stroke="#000" stroke-width="1.8"/>
<line x1="997.59" y1="221.34" x2="1008.99" y2="221.34" stroke="#000" stroke-width="1.8"/>
<line x1="997.59" y1="259.64" x2="1008.99" y2="259.64" stroke="#000" stroke-width="1.8"/>
<line x1="1022.21" y1="237.47" x2="1022.21" y2="275.57" stroke="#000" stroke-width="1.8"/>
<line x1="1016.51" y1="237.47" x2="1027.91" y2="237.47" stroke="#000" stroke-width="1.8"/>
<line x1="1016.51" y1="275.57" x2="1027.91" y2="275.57" stroke="#000" stroke-width="1.8"/>
<rect x="636.5" y="189.7" width="412.0" height="249.8" fill="none" stroke="#1a1a1a" stroke-width="1.4"/>
<line x1="632.7" y1="439.50" x2="636.5" y2="439.50" stroke="#1a1a1a" stroke-width="1.2"/>
<text x="628.00" y="443.80" font-size="12.4" text-anchor="end" fill="#111" stroke="#111" stroke-width="0.2">20</text>
<line x1="632.7" y1="397.87" x2="636.5" y2="397.87" stroke="#1a1a1a" stroke-width="1.2"/>
<text x="628.00" y="402.17" font-size="12.4" text-anchor="end" fill="#111" stroke="#111" stroke-width="0.2">22</text>
<line x1="632.7" y1="356.23" x2="636.5" y2="356.23" stroke="#1a1a1a" stroke-width="1.2"/>
<text x="628.00" y="360.53" font-size="12.4" text-anchor="end" fill="#111" stroke="#111" stroke-width="0.2">24</text>
<line x1="632.7" y1="314.60" x2="636.5" y2="314.60" stroke="#1a1a1a" stroke-width="1.2"/>
<text x="628.00" y="318.90" font-size="12.4" text-anchor="end" fill="#111" stroke="#111" stroke-width="0.2">26</text>
<line x1="632.7" y1="272.97" x2="636.5" y2="272.97" stroke="#1a1a1a" stroke-width="1.2"/>
<text x="628.00" y="277.27" font-size="12.4" text-anchor="end" fill="#111" stroke="#111" stroke-width="0.2">28</text>
<line x1="632.7" y1="231.33" x2="636.5" y2="231.33" stroke="#1a1a1a" stroke-width="1.2"/>
<text x="628.00" y="235.63" font-size="12.4" text-anchor="end" fill="#111" stroke="#111" stroke-width="0.2">30</text>
<line x1="632.7" y1="189.70" x2="636.5" y2="189.70" stroke="#1a1a1a" stroke-width="1.2"/>
<text x="628.00" y="194.00" font-size="12.4" text-anchor="end" fill="#111" stroke="#111" stroke-width="0.2">32</text>
<line x1="662.79" y1="439.5" x2="662.79" y2="443.3" stroke="#1a1a1a" stroke-width="1.2"/>
<text x="662.99" y="456.80" font-size="12.6" text-anchor="middle" fill="#111" stroke="#111" stroke-width="0.2" letter-spacing="0">1</text>
<line x1="681.71" y1="439.5" x2="681.71" y2="443.3" stroke="#1a1a1a" stroke-width="1.2"/>
<text x="681.91" y="456.80" font-size="12.6" text-anchor="middle" fill="#111" stroke="#111" stroke-width="0.2" letter-spacing="0">2</text>
<line x1="700.63" y1="439.5" x2="700.63" y2="443.3" stroke="#1a1a1a" stroke-width="1.2"/>
<text x="700.83" y="456.80" font-size="12.6" text-anchor="middle" fill="#111" stroke="#111" stroke-width="0.2" letter-spacing="0">3</text>
<line x1="719.54" y1="439.5" x2="719.54" y2="443.3" stroke="#1a1a1a" stroke-width="1.2"/>
<text x="719.74" y="456.80" font-size="12.6" text-anchor="middle" fill="#111" stroke="#111" stroke-width="0.2" letter-spacing="0">4</text>
<line x1="738.46" y1="439.5" x2="738.46" y2="443.3" stroke="#1a1a1a" stroke-width="1.2"/>
<text x="738.66" y="456.80" font-size="12.6" text-anchor="middle" fill="#111" stroke="#111" stroke-width="0.2" letter-spacing="0">5</text>
<line x1="757.38" y1="439.5" x2="757.38" y2="443.3" stroke="#1a1a1a" stroke-width="1.2"/>
<text x="757.58" y="456.80" font-size="12.6" text-anchor="middle" fill="#111" stroke="#111" stroke-width="0.2" letter-spacing="0">6</text>
<line x1="776.29" y1="439.5" x2="776.29" y2="443.3" stroke="#1a1a1a" stroke-width="1.2"/>
<text x="776.49" y="456.80" font-size="12.6" text-anchor="middle" fill="#111" stroke="#111" stroke-width="0.2" letter-spacing="0">7</text>
<line x1="795.21" y1="439.5" x2="795.21" y2="443.3" stroke="#1a1a1a" stroke-width="1.2"/>
<text x="795.41" y="456.80" font-size="12.6" text-anchor="middle" fill="#111" stroke="#111" stroke-width="0.2" letter-spacing="0">8</text>
<line x1="814.13" y1="439.5" x2="814.13" y2="443.3" stroke="#1a1a1a" stroke-width="1.2"/>
<text x="814.33" y="456.80" font-size="12.6" text-anchor="middle" fill="#111" stroke="#111" stroke-width="0.2" letter-spacing="0">9</text>
<line x1="833.04" y1="439.5" x2="833.04" y2="443.3" stroke="#1a1a1a" stroke-width="1.2"/>
<text x="833.89" y="456.80" font-size="12.6" text-anchor="middle" fill="#111" stroke="#111" stroke-width="0.2" letter-spacing="1.3">10</text>
<line x1="851.96" y1="439.5" x2="851.96" y2="443.3" stroke="#1a1a1a" stroke-width="1.2"/>
<text x="852.81" y="456.80" font-size="12.6" text-anchor="middle" fill="#111" stroke="#111" stroke-width="0.2" letter-spacing="1.3">11</text>
<line x1="870.87" y1="439.5" x2="870.87" y2="443.3" stroke="#1a1a1a" stroke-width="1.2"/>
<text x="871.72" y="456.80" font-size="12.6" text-anchor="middle" fill="#111" stroke="#111" stroke-width="0.2" letter-spacing="1.3">12</text>
<line x1="889.79" y1="439.5" x2="889.79" y2="443.3" stroke="#1a1a1a" stroke-width="1.2"/>
<text x="890.64" y="456.80" font-size="12.6" text-anchor="middle" fill="#111" stroke="#111" stroke-width="0.2" letter-spacing="1.3">13</text>
<line x1="908.71" y1="439.5" x2="908.71" y2="443.3" stroke="#1a1a1a" stroke-width="1.2"/>
<text x="909.56" y="456.80" font-size="12.6" text-anchor="middle" fill="#111" stroke="#111" stroke-width="0.2" letter-spacing="1.3">14</text>
<line x1="927.62" y1="439.5" x2="927.62" y2="443.3" stroke="#1a1a1a" stroke-width="1.2"/>
<text x="928.47" y="456.80" font-size="12.6" text-anchor="middle" fill="#111" stroke="#111" stroke-width="0.2" letter-spacing="1.3">15</text>
<line x1="946.54" y1="439.5" x2="946.54" y2="443.3" stroke="#1a1a1a" stroke-width="1.2"/>
<text x="947.39" y="456.80" font-size="12.6" text-anchor="middle" fill="#111" stroke="#111" stroke-width="0.2" letter-spacing="1.3">16</text>
<line x1="965.46" y1="439.5" x2="965.46" y2="443.3" stroke="#1a1a1a" stroke-width="1.2"/>
<text x="966.31" y="456.80" font-size="12.6" text-anchor="middle" fill="#111" stroke="#111" stroke-width="0.2" letter-spacing="1.3">17</text>
<line x1="984.37" y1="439.5" x2="984.37" y2="443.3" stroke="#1a1a1a" stroke-width="1.2"/>
<text x="985.22" y="456.80" font-size="12.6" text-anchor="middle" fill="#111" stroke="#111" stroke-width="0.2" letter-spacing="1.3">18</text>
<line x1="1003.29" y1="439.5" x2="1003.29" y2="443.3" stroke="#1a1a1a" stroke-width="1.2"/>
<text x="1004.14" y="456.80" font-size="12.6" text-anchor="middle" fill="#111" stroke="#111" stroke-width="0.2" letter-spacing="1.3">19</text>
<line x1="1022.21" y1="439.5" x2="1022.21" y2="443.3" stroke="#1a1a1a" stroke-width="1.2"/>
<text x="1023.06" y="456.80" font-size="12.6" text-anchor="middle" fill="#111" stroke="#111" stroke-width="0.2" letter-spacing="1.3">20</text>
<text x="267.6" y="475.9" text-anchor="middle" textLength="142" font-size="16.6" fill="#111" stroke="#111" stroke-width="0.1" lengthAdjust="spacingAndGlyphs">Training sessions</text>
<text x="842.3" y="477.0" text-anchor="middle" textLength="143" font-size="16.6" fill="#111" stroke="#111" stroke-width="0.1" lengthAdjust="spacingAndGlyphs">Training sessions</text>
<text transform="translate(34.1,313.4) rotate(-90)" text-anchor="middle" textLength="103" font-size="16.6" fill="#111" stroke="#111" stroke-width="0.1" lengthAdjust="spacingAndGlyphs">Success rate</text>
<text transform="translate(606.1,314.9) rotate(-90)" text-anchor="middle" textLength="204" font-size="16.6" fill="#111" stroke="#111" stroke-width="0.1" lengthAdjust="spacingAndGlyphs">Alpha suppression score</text>
</svg>
</body></html>
